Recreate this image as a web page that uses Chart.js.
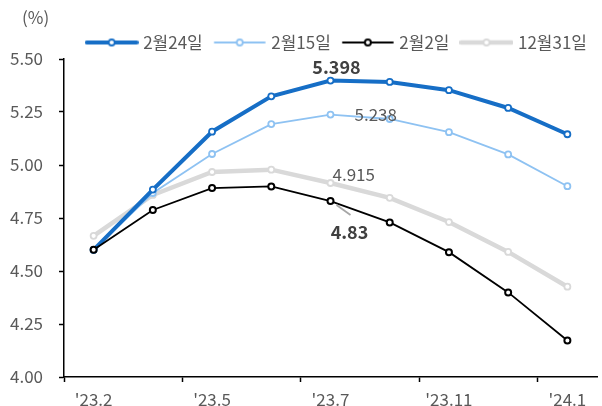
<!DOCTYPE html>
<html>
<head>
<meta charset="utf-8">
<script src="https://cdn.jsdelivr.net/npm/chart.js@4/dist/chart.umd.min.js"></script>
<style>
  html, body { margin: 0; padding: 0; background: #fff; }
</style>
</head>
<body>
<canvas id="c" width="602" height="406"></canvas>
<script>
// Horizontal positions along the curve; only every other one carries a label
const categories = ["'23.2", "", "'23.5", "", "'23.7", "", "'23.11", "", "'24.1"];
const seriesNames = ['2월24일', '2월15일', '2월2일', '12월31일'];

// Implied rates (%) for each observation date
const feb24 = [4.600, 4.884, 5.157, 5.324, 5.398, 5.392, 5.353, 5.269, 5.145];
const feb15 = [4.600, 4.868, 5.052, 5.193, 5.238, 5.217, 5.155, 5.050, 4.900];
const feb2  = [4.600, 4.788, 4.891, 4.899, 4.83, 4.729, 4.589, 4.399, 4.172];
const dec31 = [4.666, 4.859, 4.967, 4.978, 4.915, 4.845, 4.731, 4.590, 4.426];

// Value axis range
const yMin = 4.00, yMax = 5.50, yStep = 0.25;

const FONT = "'Noto Sans CJK KR', 'Noto Sans', sans-serif";
const TEXT = '#595959';
Chart.defaults.font.family = FONT;
Chart.defaults.font.size = 17;
Chart.defaults.color = TEXT;

const styles = [
  { color: '#166ec6', width: 4,   radius: 3, pbw: 1.8, order: 1 },
  { color: '#8ec2f2', width: 1.8, radius: 3, pbw: 1.8, order: 2 },
  { color: '#000000', width: 1.8, radius: 3, pbw: 2,   order: 0 },
  { color: '#d9d9d9', width: 4.5, radius: 3, pbw: 1.8, order: 3 }
];
const values = [feb24, feb15, feb2, dec31];

// Legend swatch: a short line with a hollow marker in the middle
function swatch(s) {
  const cv = document.createElement('canvas');
  cv.width = 54; cv.height = 12;
  const g = cv.getContext('2d');
  g.strokeStyle = s.color;
  g.lineWidth = s.width;
  g.lineCap = 'round';
  g.beginPath(); g.moveTo(2, 6); g.lineTo(52, 6); g.stroke();
  g.beginPath(); g.arc(27, 6, s.radius, 0, Math.PI * 2);
  g.fillStyle = '#fff'; g.fill();
  g.lineWidth = s.pbw; g.stroke();
  return cv;
}
const swatches = styles.map(swatch);

const datasets = seriesNames.map((name, i) => ({
  label: name,
  data: values[i],
  borderColor: styles[i].color,
  borderWidth: styles[i].width,
  pointRadius: styles[i].radius,
  pointBorderWidth: styles[i].pbw,
  pointBackgroundColor: '#ffffff',
  pointBorderColor: styles[i].color,
  pointHoverRadius: styles[i].radius,
  tension: 0,
  order: styles[i].order
}));

// Callouts for the '23.7 point of each curve, text taken from the data
const callouts = [
  { ds: 0, idx: 4, bold: true,  color: '#404040', align: 'center', dx: 6,  dy: -13 },
  { ds: 1, idx: 4, bold: false, color: '#595959', align: 'left',   dx: 24, dy: 0 },
  { ds: 3, idx: 4, bold: false, color: '#595959', align: 'left',   dx: 2,  dy: -8 },
  { ds: 2, idx: 4, bold: true,  color: '#404040', align: 'center', dx: 19, dy: 31, leader: true }
];

const decorations = {
  id: 'decorations',
  beforeLayout(chart) {
    // tighten the space between the legend row and the plot
    const lg = chart.legend;
    if (lg && !lg._gapPatched) {
      const fit = lg.fit;
      lg.fit = function () { fit.call(this); this.height -= 2; };
      lg._gapPatched = true;
    }
  },
  afterDatasetsDraw(chart) {
    const ctx = chart.ctx;
    ctx.save();
    callouts.forEach(c => {
      const pt = chart.getDatasetMeta(c.ds).data[c.idx];
      const v = chart.data.datasets[c.ds].data[c.idx];
      if (c.leader) {
        ctx.strokeStyle = '#a6a6a6';
        ctx.lineWidth = 1.8;
        ctx.beginPath();
        ctx.moveTo(pt.x + 6, pt.y + 4);
        ctx.lineTo(pt.x + 20, pt.y + 14);
        ctx.stroke();
      }
      ctx.font = (c.bold ? 'bold 18px ' : '17px ') + FONT;
      ctx.fillStyle = c.color;
      ctx.textAlign = c.align;
      ctx.textBaseline = 'middle';
      ctx.fillText(String(v), pt.x + c.dx, pt.y + c.dy);
    });
    // unit label above the value axis
    ctx.font = '17px ' + FONT;
    ctx.fillStyle = TEXT;
    ctx.textAlign = 'left';
    ctx.textBaseline = 'middle';
    ctx.fillText('(%)', 22, 18);
    ctx.restore();
  }
};

new Chart(document.getElementById('c'), {
  type: 'line',
  data: { labels: categories, datasets },
  options: {
    responsive: false,
    animation: false,
    events: [],
    layout: { padding: { left: 4, right: 1, top: 20, bottom: 0 } },
    plugins: {
      tooltip: { enabled: false },
      legend: {
        position: 'top',
        align: 'end',
        labels: {
          usePointStyle: true,
          pointStyleWidth: 46,
          padding: 14,
          color: TEXT,
          font: { size: 17, family: FONT },
          generateLabels(chart) {
            return chart.data.datasets.map((d, i) => ({
              text: d.label,
              datasetIndex: i,
              pointStyle: swatches[i],
              fillStyle: d.borderColor,
              strokeStyle: d.borderColor,
              lineWidth: 0,
              hidden: false,
              fontColor: TEXT
            }));
          }
        }
      }
    },
    scales: {
      x: {
        type: 'category',
        offset: true,
        afterFit(s) { s.height = 29; },
        grid: {
          offset: true,
          drawOnChartArea: false,
          drawTicks: true,
          tickLength: 5,
          tickWidth: 1.5,
          tickColor: ctx => (ctx.tick && ctx.tick.label) ? '#000' : 'rgba(0,0,0,0)'
        },
        border: { color: '#000', width: 1.5 },
        ticks: {
          autoSkip: false,
          maxRotation: 0,
          padding: 7,
          color: TEXT,
          font: { size: 17 }
        }
      },
      y: {
        min: yMin,
        max: yMax,
        afterFit(s) { s.width = 60; },
        grid: {
          drawOnChartArea: false,
          drawTicks: true,
          tickLength: 5,
          tickWidth: 1.5,
          tickColor: '#000'
        },
        border: { color: '#000', width: 1.5 },
        ticks: {
          stepSize: yStep,
          padding: 16,
          color: TEXT,
          font: { size: 17 },
          callback: v => Number(v).toFixed(2)
        }
      }
    }
  },
  plugins: [decorations]
});
</script>
</body>
</html>
